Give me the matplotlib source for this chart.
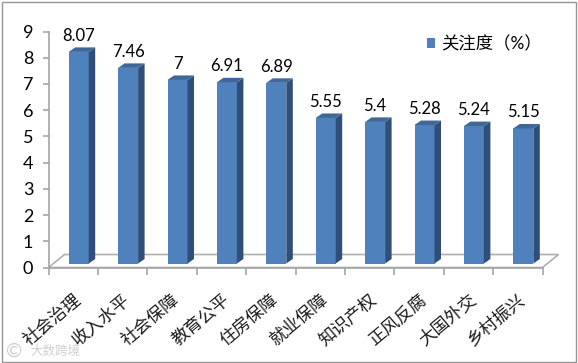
import numpy as np
import matplotlib
matplotlib.use('Agg')
import matplotlib.pyplot as plt
from matplotlib.patches import Polygon, Rectangle

plt.rcParams['font.family'] = ['Lato', 'Noto Sans CJK SC', 'DejaVu Sans']

categories = ['社会治理', '收入水平', '社会保障', '教育公平', '住房保障',
              '就业保障', '知识产权', '正风反腐', '大国外交', '乡村振兴']
values = [8.07, 7.46, 7, 6.91, 6.89, 5.55, 5.4, 5.28, 5.24, 5.15]
value_labels = ['8.07', '7.46', '7', '6.91', '6.89', '5.55', '5.4', '5.28', '5.24', '5.15']
y_ticks = [0, 1, 2, 3, 4, 5, 6, 7, 8, 9]
series_name = '关注度（%）'

W, H = 578, 363
front = '#4f81bd'
side = '#2f4f78'
top = '#3f6797'
axis_grey = '#a6a6a6'

fig = plt.figure(figsize=(W / 100, H / 100), dpi=100)
ax = fig.add_axes([48.5 / W, 1 - 267.5 / H, 494 / W, 236 / H])
ax.set_xlim(0, 10)
ax.set_ylim(0, 9)

# pixel sizes in data units
px_x = 10 / 494
px_y = 9 / 236

n = len(values)
x = np.arange(n) + 0.5 + 5.5 * px_x
width = 20 * px_x
base = 4 * px_y
dx = 6.5 * px_x
dy = 4.5 * px_y

# floor
floor_dx = 16 * px_x
floor_dy = 13 * px_y
ax.add_patch(Polygon([(0, 0), (10, 0), (10 + floor_dx, floor_dy), (floor_dx, floor_dy)],
                     closed=True, facecolor='white', edgecolor='#b0b0b0', linewidth=1.2,
                     clip_on=False, zorder=1))

bars = ax.bar(x, values, width=width, bottom=base, color=front, label=series_name, zorder=3)

for xi, v, lab in zip(x, values, value_labels):
    left = xi - width / 2
    right = xi + width / 2
    y1 = base + v
    ax.add_patch(Polygon([(right, base), (right + dx, base + dy), (right + dx, y1 + dy), (right, y1)],
                         closed=True, facecolor=side, edgecolor='none', zorder=3, clip_on=False))
    ax.add_patch(Polygon([(left, y1), (right, y1), (right + dx, y1 + dy), (left + dx, y1 + dy)],
                         closed=True, facecolor=top, edgecolor='none', zorder=3, clip_on=False))
    ax.annotate(lab, (xi, y1 + dy), xytext=(0, 2.5), textcoords='offset points',
                ha='center', va='bottom', fontsize=12, color='black', zorder=5)

for s in ['top', 'right']:
    ax.spines[s].set_visible(False)
for s in ['left', 'bottom']:
    ax.spines[s].set_color(axis_grey)
    ax.spines[s].set_linewidth(1.2)

ax.set_yticks(y_ticks)
ax.set_xticks(np.arange(n + 1))
ax.set_xticklabels([])
ax.tick_params(axis='y', length=4, width=1.2, color=axis_grey, labelsize=13, pad=7)
ax.tick_params(axis='x', length=5, width=1.2, color=axis_grey)

for i, name in enumerate(categories):
    ax.annotate(name, (i + 0.5, 0), xytext=(0, -17), textcoords='offset points',
                rotation=40, rotation_mode='anchor', ha='right', va='top', fontsize=12.5,
                color='#1a1a1a', annotation_clip=False)

leg = fig.legend(handles=[bars], labels=[series_name], loc='center left',
                 bbox_to_anchor=(418 / W, 1 - 44 / H), frameon=False, fontsize=12.5,
                 handlelength=0.5, handleheight=0.5, handletextpad=0.35, borderpad=0)

# outer frame
fig.add_artist(Rectangle((1.5 / W, 1 - 361.5 / H), 574 / W, 360 / H, transform=fig.transFigure,
                         fill=False, edgecolor='#969696', linewidth=1.0))

# watermark
fig.text(30 / W, 1 - 351 / H, '大数跨境', fontsize=9, color='#cfcfcf', va='center', ha='left')
fig.text(6 / W, 1 - 351 / H, '©', fontsize=14, color='#cfcfcf', va='center', ha='left')

fig.savefig('out.png', dpi=100)
plt.close(fig)
